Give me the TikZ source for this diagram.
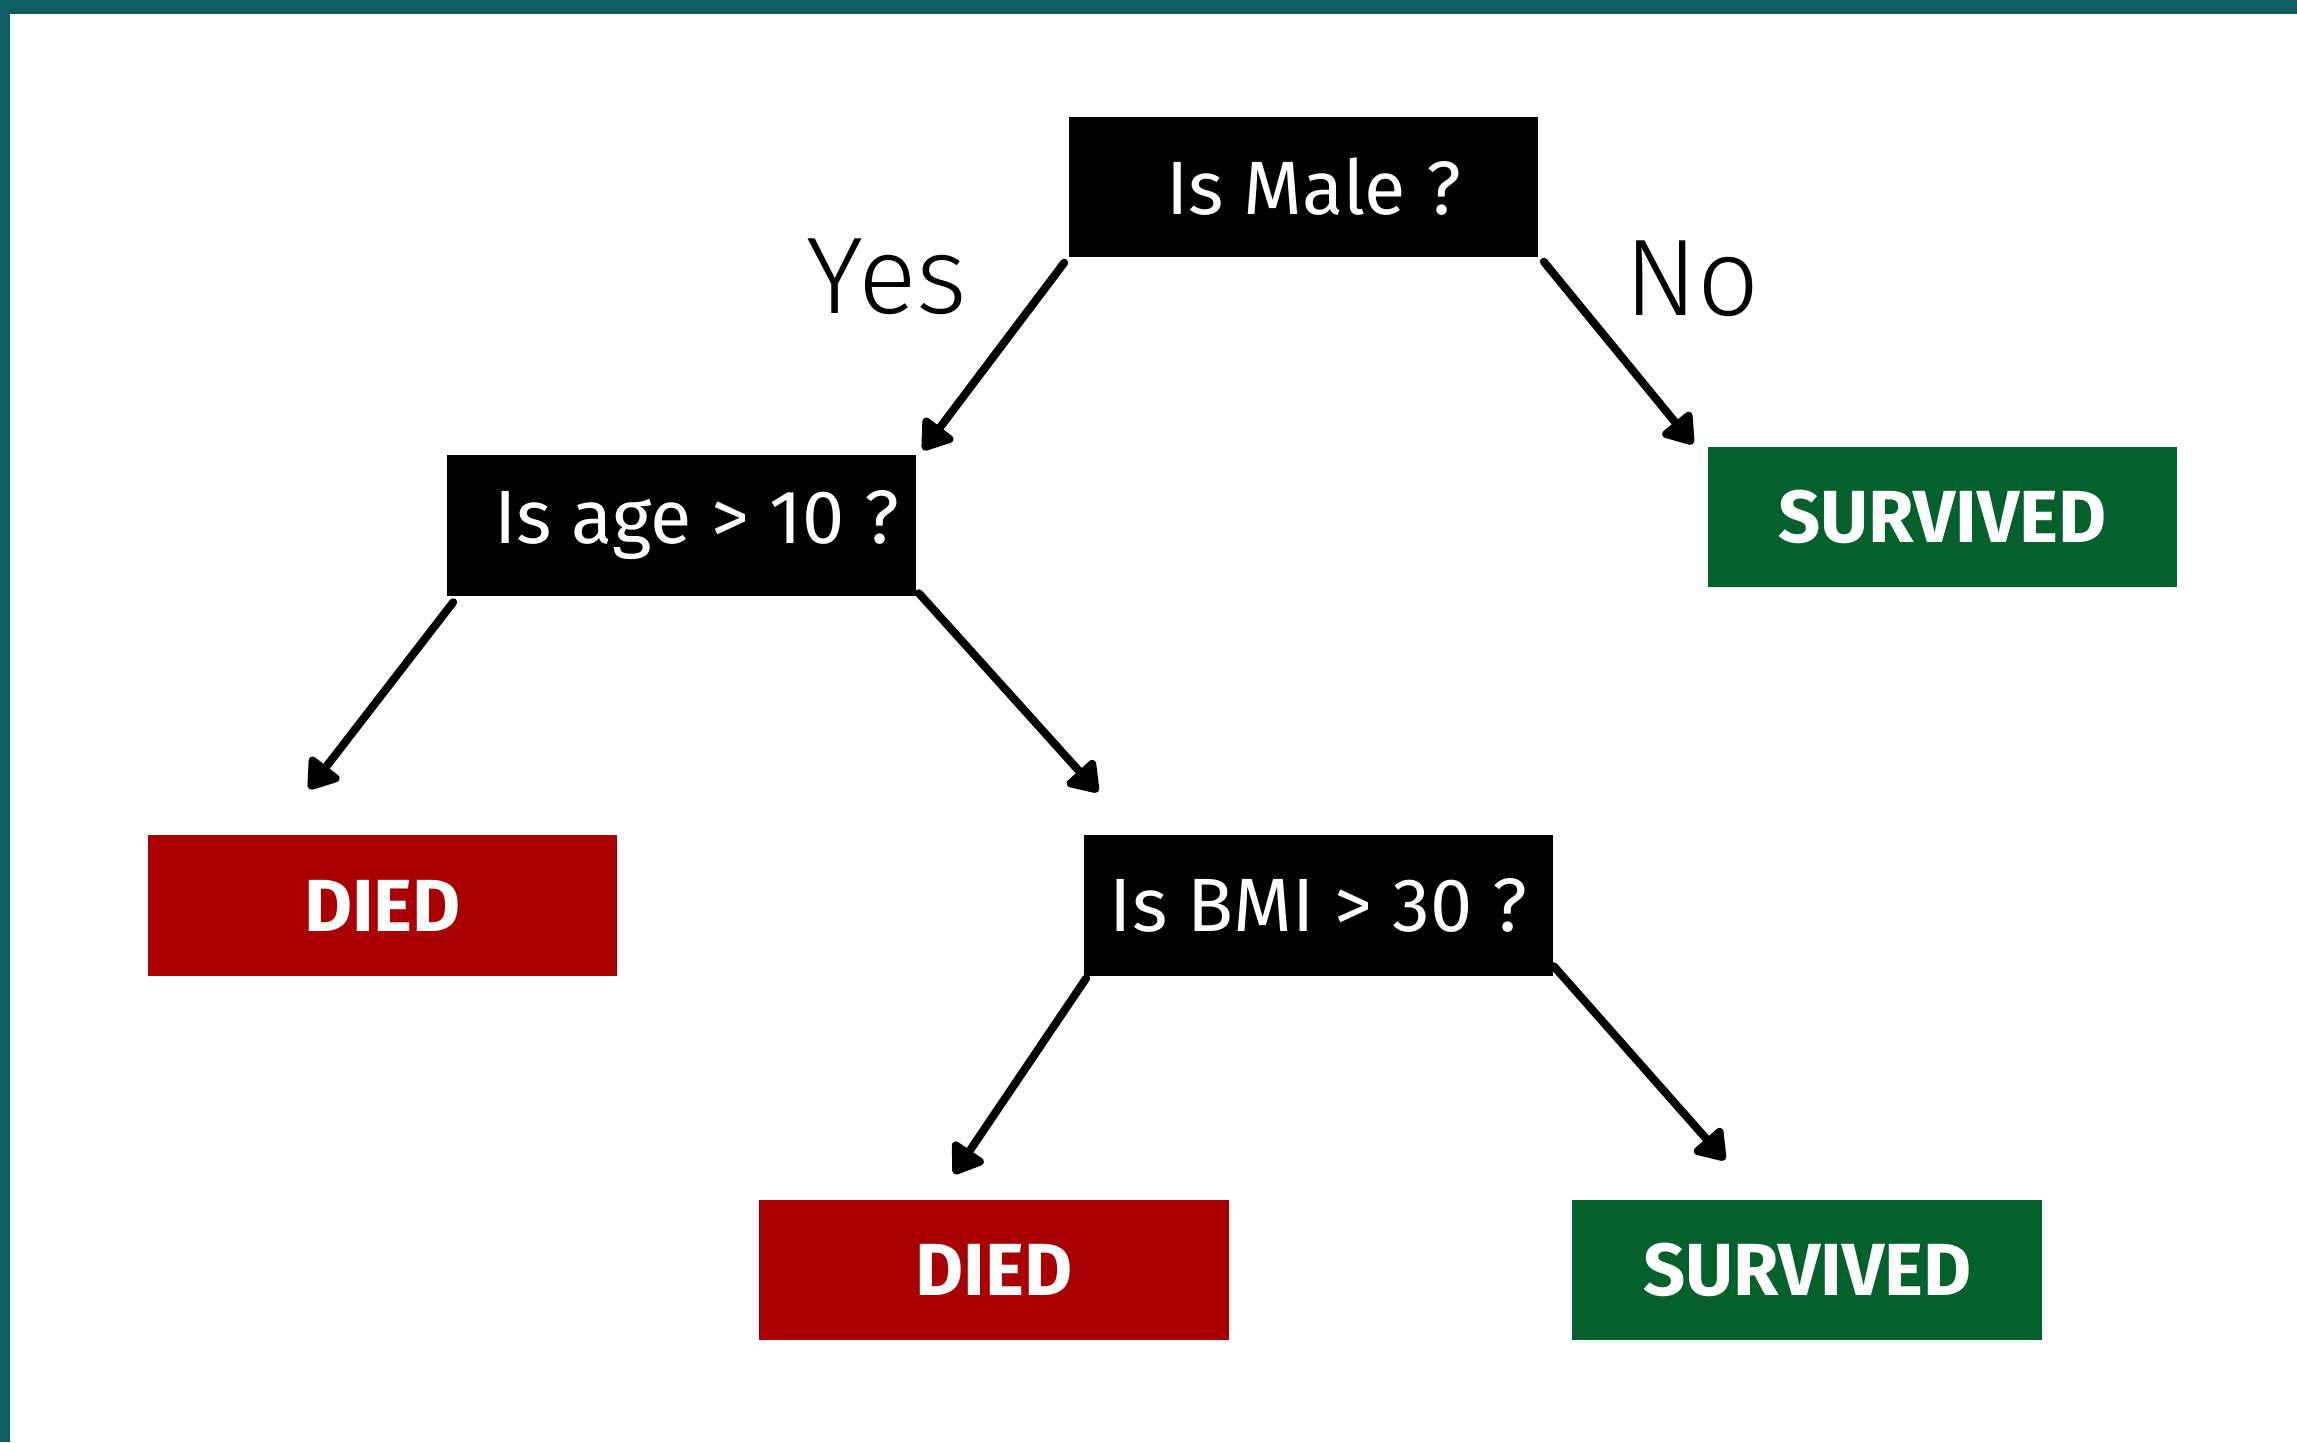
\documentclass[tikz,border=0pt]{standalone}
\usepackage{fontspec}
\setmainfont{Fira Sans}
\newfontfamily\lightfont{Fira Sans Light}
\usetikzlibrary{arrows.meta}

\definecolor{frameteal}{HTML}{0F5C63}
\definecolor{diedred}{HTML}{A80000}
\definecolor{survgreen}{HTML}{04612C}

\tikzset{
  box/.style={minimum width=4.69cm, minimum height=1.40cm, inner sep=0pt,
              text=white, anchor=center},
  question/.style={box, fill=black, font=\fontsize{21.5}{24}\selectfont},
  outcome/.style={box, font=\bfseries\fontsize{21}{24}\selectfont},
  died/.style={outcome, fill=diedred},
  survived/.style={outcome, fill=survgreen},
  arr/.style={line width=0.08cm, line cap=round, line join=round,
              -{Triangle[length=0.32cm, width=0.42cm, round]}},
  answer/.style={font=\lightfont\fontsize{31}{36}\selectfont, inner sep=0pt}
}

\begin{document}
\begin{tikzpicture}[x=0.01cm, y=-0.01cm]
  % canvas and frame
  \useasboundingbox (0,0) rectangle (2297,1442);
  \fill[white] (0,0) rectangle (2297,1442);
  \fill[frameteal] (0,0) rectangle (2297,14);
  \fill[frameteal] (0,0) rectangle (10,1442);

  % decision nodes
  \node[question] (male) at (1303.5,187) {\hspace*{0.2cm}Is Male ?};
  \node[question] (age)  at (681.5,525.5) {\hspace*{0.3cm}Is age > 10 ?};
  \node[question] (bmi)  at (1318.5,905.5) {Is BMI > 30 ?};

  % leaves
  \node[survived] (survA) at (1942.5,517)  {SURVIVED};
  \node[died]     (diedA) at (382.5,905.5) {DIED};
  \node[died]     (diedB) at (994,1270)    {DIED};
  \node[survived] (survB) at (1807,1270)   {SURVIVED};

  % arrow tips
  \coordinate (tipYes)  at (923,450);
  \coordinate (tipNo)   at (1693,444);
  \coordinate (tipAgeL) at (309,789);
  \coordinate (tipAgeR) at (1098,792);
  \coordinate (tipBmiL) at (954,1174);
  \coordinate (tipBmiR) at (1725,1160);

  % branches
  \draw[arr] ([shift={(-4,5)}]male.south west) -- (tipYes);
  \draw[arr] ([shift={(5,4)}]male.south east) -- (tipNo);
  \draw[arr] ([shift={(7,6)}]age.south west) -- (tipAgeL);
  \draw[arr] ([shift={(2,-3)}]age.south east) -- (tipAgeR);
  \draw[arr] ([shift={(3,2)}]bmi.south west) -- (tipBmiL);
  \draw[arr] ([shift={(0,-10)}]bmi.south east) -- (tipBmiR);

  % branch labels
  \node[answer] (yes) at (887,277) {Yes};
  \node[answer] (no)  at (1692,279) {No};
\end{tikzpicture}
\end{document}
